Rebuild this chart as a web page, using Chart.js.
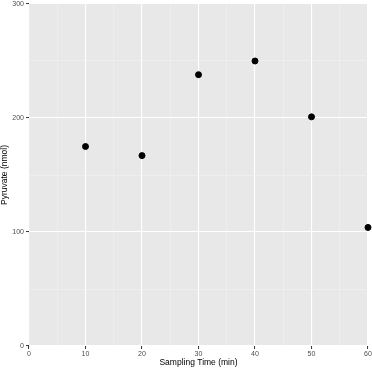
<!DOCTYPE html>
<html><head><meta charset="utf-8">
<script src="https://cdn.jsdelivr.net/npm/chart.js@4/dist/chart.umd.min.js"></script>
<style>html,body{margin:0;padding:0;background:#fff}#wrap{width:372px;height:370px}</style>
</head><body><div id="wrap"><canvas id="c" width="372" height="370"></canvas></div>
<script>
const samplingTime = [10, 20, 30, 40, 50, 60];
const pyruvate = [175, 167, 238, 250, 201, 104];
const xTickLabels = [0, 10, 20, 30, 40, 50, 60];
const yTickLabels = [0, 100, 200, 300];

const panelBg = {
  id: 'panelBg',
  beforeDraw(chart) {
    const {ctx, chartArea: a} = chart;
    ctx.save();
    ctx.fillStyle = '#E8E8E8';
    ctx.fillRect(a.left, a.top, a.right - a.left, a.bottom - a.top);
    ctx.restore();
  }
};
const isMajor = (v, arr) => arr.includes(v);
new Chart(document.getElementById('c'), {
  type: 'scatter',
  data: { datasets: [{
    data: samplingTime.map((x, i) => ({x, y: pyruvate[i]})),
    backgroundColor: '#000', borderColor: '#000', pointRadius: 3, pointHoverRadius: 3,
    clip: false
  }]},
  options: {
    responsive: false, animation: false, events: [],
    layout: { padding: { top: 3, right: 3, left: 0, bottom: 0 } },
    plugins: { legend: { display: false }, tooltip: { enabled: false } },
    scales: {
      x: {
        type: 'linear', min: 0, max: 60,
        afterBuildTicks: s => { s.ticks = []; for (let v = 0; v <= 60; v += 5) s.ticks.push({value: v}); },
        afterFit: s => { s.height = 24; s.paddingLeft = 0; s.paddingRight = 0; },
        border: { display: false },
        grid: {
          color: c => isMajor(c.tick.value, xTickLabels) ? '#FFFFFF' : '#F3F3F3',
          lineWidth: c => isMajor(c.tick.value, xTickLabels) ? 1.1 : 0.55,
          tickColor: c => isMajor(c.tick.value, xTickLabels) ? '#333333' : 'rgba(0,0,0,0)',
          tickLength: 3, tickWidth: 1
        },
        ticks: {
          autoSkip: false, maxRotation: 0, padding: 1,
          color: '#4D4D4D', font: { family: 'Liberation Sans, Arial, sans-serif', size: 7 },
          callback: v => isMajor(v, xTickLabels) ? String(v) : ''
        },
        title: { display: true, text: 'Sampling Time (min)', color: '#000',
          font: { family: 'Liberation Sans, Arial, sans-serif', size: 8.5 }, padding: { top: 0, bottom: 2 } }
      },
      y: {
        type: 'linear', min: 0, max: 300,
        afterBuildTicks: s => { s.ticks = []; for (let v = 0; v <= 300; v += 50) s.ticks.push({value: v}); },
        afterFit: s => { s.width = 29; s.paddingTop = 0; s.paddingBottom = 0; },
        border: { display: false },
        grid: {
          color: c => isMajor(c.tick.value, yTickLabels) ? '#FFFFFF' : '#F3F3F3',
          lineWidth: c => isMajor(c.tick.value, yTickLabels) ? 1.1 : 0.55,
          tickColor: c => isMajor(c.tick.value, yTickLabels) ? '#333333' : 'rgba(0,0,0,0)',
          tickLength: 3, tickWidth: 1
        },
        ticks: {
          autoSkip: false, padding: 2,
          color: '#4D4D4D', font: { family: 'Liberation Sans, Arial, sans-serif', size: 7 },
          callback: v => isMajor(v, yTickLabels) ? String(v) : ''
        },
        title: { display: true, text: 'Pyruvate (nmol)', color: '#000',
          font: { family: 'Liberation Sans, Arial, sans-serif', size: 8.5 }, padding: { top: 0, bottom: 0 } }
      }
    }
  },
  plugins: [panelBg]
});
</script></body></html>
